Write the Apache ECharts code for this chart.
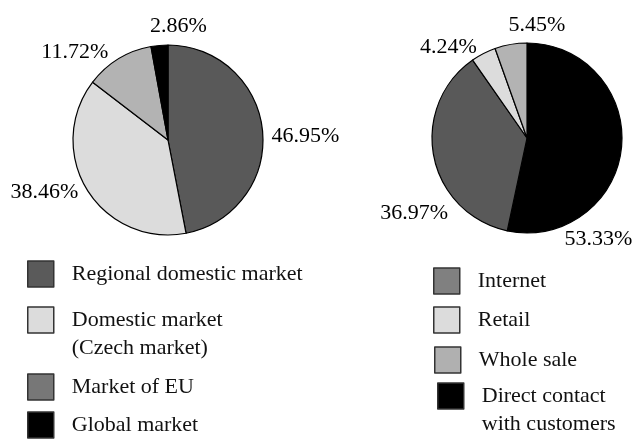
<!DOCTYPE html>
<html>
<head>
<meta charset="utf-8">
<script src="https://cdn.jsdelivr.net/npm/echarts@6/dist/echarts.min.js"></script>
<style>
  html, body { margin: 0; padding: 0; background: #fff; }
  #chart { width: 633px; height: 442px; }
</style>
</head>
<body>
<div id="chart"></div>
<script>
// left pie: markets
const marketNames = ['Regional domestic market', 'Domestic market\n(Czech market)', 'Market of EU', 'Global market'];
const marketShares = [46.95, 38.46, 11.72, 2.86];
// right pie: sales channels
const channelNames = ['Direct contact\nwith customers', 'Internet', 'Retail', 'Whole sale'];
const channelShares = [53.33, 36.97, 4.24, 5.45];

// slice fills and legend swatches are not quite the same greys in the original
const marketSliceColors = ['#595959', '#dcdcdc', '#b3b3b3', '#000000'];
const marketSwatchColors = ['#5a5a5a', '#dcdcdc', '#777777', '#000000'];
const channelSliceColors = ['#000000', '#595959', '#dcdcdc', '#b3b3b3'];
const channelSwatchColors = ['#000000', '#808080', '#dcdcdc', '#b0b0b0'];

// label nudges [dx, dy] from the default outside position
const marketLabelNudge = [[-4, 6], [3, -2], [-1, 0], [53, -11]];
const channelLabelNudge = [[-70, 90], [27, 55], [2, 1], [61, -11]];

// legend swatch placement [left, top]
const marketLegendPos = [[27, 261], [27, 307], [27, 374], [27, 412]];
const channelLegendPos = [[437, 383], [433, 268], [433, 307], [434, 347]];

const FONT = 'Liberation Serif';
const SQUARE = 'path://M0,0H26V26H0Z';
// same square, but the box reaches down one more line so a two-line label starts level with it
const TALL_SQUARE = 'path://M0,0H26V26H0Z M0,54L0,54';

const chart = echarts.init(document.getElementById('chart'));

const makeLegend = (name, color, pos) => {
  const twoLines = name.indexOf('\n') >= 0;
  return {
    left: pos[0],
    top: pos[1] - 1,
    padding: 0,
    itemWidth: 26,
    itemHeight: twoLines ? 54 : 26,
    icon: twoLines ? TALL_SQUARE : SQUARE,
    selectedMode: false,
    itemStyle: { color: color, borderColor: '#333', borderWidth: 1.5 },
    textStyle: {
      fontFamily: FONT, fontSize: 22, color: '#111', lineHeight: 28,
      padding: [0, 0, 0, 13]
    },
    data: [{ name: name, itemStyle: { color: color } }]
  };
};

const makePie = (center, names, values, colors, nudge) => ({
  type: 'pie',
  center: center,
  radius: 95,
  startAngle: 90,
  clockwise: true,
  avoidLabelOverlap: false,
  animation: false,
  emphasis: { disabled: true },
  itemStyle: { borderColor: '#000', borderWidth: 1.2 },
  label: {
    position: 'outside',
    fontFamily: FONT,
    fontSize: 22,
    color: '#000',
    distanceToLabelLine: 5,
    formatter: (p) => p.value.toFixed(2) + '%'
  },
  labelLine: { show: false, length: 8, length2: 0 },
  labelLayout: (p) => ({ dx: nudge[p.dataIndex][0], dy: nudge[p.dataIndex][1] }),
  data: names.map((n, i) => ({ name: n, value: values[i], itemStyle: { color: colors[i] } }))
});

const legends = [];
marketNames.forEach((n, i) => legends.push(makeLegend(n, marketSwatchColors[i], marketLegendPos[i])));
channelNames.forEach((n, i) => legends.push(makeLegend(n, channelSwatchColors[i], channelLegendPos[i])));

const option = {
  backgroundColor: '#fff',
  animation: false,
  legend: legends,
  series: [
    makePie([168, 140], marketNames, marketShares, marketSliceColors, marketLabelNudge),
    makePie([527, 138], channelNames, channelShares, channelSliceColors, channelLabelNudge)
  ]
};

chart.setOption(option);
</script>
</body>
</html>
